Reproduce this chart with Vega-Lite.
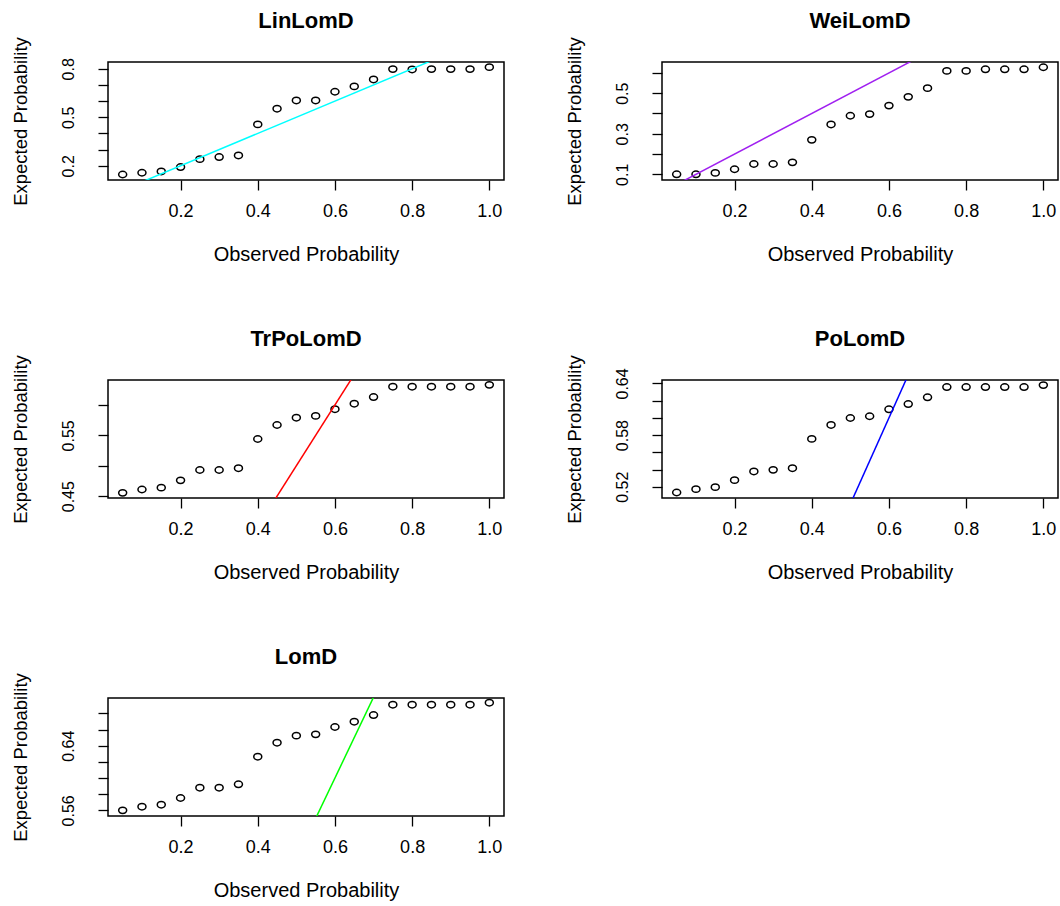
{
  "$schema": "https://vega.github.io/schema/vega-lite/v6.json",
  "background": "white",
  "padding": {"left": 10, "top": 8, "right": 0, "bottom": 0},
  "datasets": {
    "linlomd": [
      {"obs": 0.05, "exp": 0.146}, {"obs": 0.10, "exp": 0.157}, {"obs": 0.15, "exp": 0.165}, {"obs": 0.20, "exp": 0.192},
      {"obs": 0.25, "exp": 0.241}, {"obs": 0.30, "exp": 0.254}, {"obs": 0.35, "exp": 0.264}, {"obs": 0.40, "exp": 0.456},
      {"obs": 0.45, "exp": 0.553}, {"obs": 0.50, "exp": 0.604}, {"obs": 0.55, "exp": 0.604}, {"obs": 0.60, "exp": 0.658},
      {"obs": 0.65, "exp": 0.691}, {"obs": 0.70, "exp": 0.734}, {"obs": 0.75, "exp": 0.798}, {"obs": 0.80, "exp": 0.796},
      {"obs": 0.85, "exp": 0.798}, {"obs": 0.90, "exp": 0.798}, {"obs": 0.95, "exp": 0.798}, {"obs": 1.00, "exp": 0.810}
    ],
    "weilomd": [
      {"obs": 0.05, "exp": 0.100}, {"obs": 0.10, "exp": 0.100}, {"obs": 0.15, "exp": 0.107}, {"obs": 0.20, "exp": 0.125},
      {"obs": 0.25, "exp": 0.151}, {"obs": 0.30, "exp": 0.151}, {"obs": 0.35, "exp": 0.159}, {"obs": 0.40, "exp": 0.270},
      {"obs": 0.45, "exp": 0.346}, {"obs": 0.50, "exp": 0.389}, {"obs": 0.55, "exp": 0.397}, {"obs": 0.60, "exp": 0.439},
      {"obs": 0.65, "exp": 0.482}, {"obs": 0.70, "exp": 0.525}, {"obs": 0.75, "exp": 0.610}, {"obs": 0.80, "exp": 0.610},
      {"obs": 0.85, "exp": 0.618}, {"obs": 0.90, "exp": 0.618}, {"obs": 0.95, "exp": 0.618}, {"obs": 1.00, "exp": 0.628}
    ],
    "trpolomd": [
      {"obs": 0.05, "exp": 0.4555}, {"obs": 0.10, "exp": 0.461}, {"obs": 0.15, "exp": 0.464}, {"obs": 0.20, "exp": 0.476},
      {"obs": 0.25, "exp": 0.493}, {"obs": 0.30, "exp": 0.493}, {"obs": 0.35, "exp": 0.496}, {"obs": 0.40, "exp": 0.544},
      {"obs": 0.45, "exp": 0.567}, {"obs": 0.50, "exp": 0.579}, {"obs": 0.55, "exp": 0.582}, {"obs": 0.60, "exp": 0.593},
      {"obs": 0.65, "exp": 0.602}, {"obs": 0.70, "exp": 0.613}, {"obs": 0.75, "exp": 0.630}, {"obs": 0.80, "exp": 0.630},
      {"obs": 0.85, "exp": 0.630}, {"obs": 0.90, "exp": 0.630}, {"obs": 0.95, "exp": 0.630}, {"obs": 1.00, "exp": 0.633}
    ],
    "polomd": [
      {"obs": 0.05, "exp": 0.5134}, {"obs": 0.10, "exp": 0.5173}, {"obs": 0.15, "exp": 0.5196}, {"obs": 0.20, "exp": 0.5277},
      {"obs": 0.25, "exp": 0.5378}, {"obs": 0.30, "exp": 0.5397}, {"obs": 0.35, "exp": 0.5416}, {"obs": 0.40, "exp": 0.5756},
      {"obs": 0.45, "exp": 0.5918}, {"obs": 0.50, "exp": 0.5999}, {"obs": 0.55, "exp": 0.6019}, {"obs": 0.60, "exp": 0.6100},
      {"obs": 0.65, "exp": 0.6161}, {"obs": 0.70, "exp": 0.6239}, {"obs": 0.75, "exp": 0.6358}, {"obs": 0.80, "exp": 0.6358},
      {"obs": 0.85, "exp": 0.6358}, {"obs": 0.90, "exp": 0.6358}, {"obs": 0.95, "exp": 0.6358}, {"obs": 1.00, "exp": 0.6381}
    ],
    "lomd": [
      {"obs": 0.05, "exp": 0.5600}, {"obs": 0.10, "exp": 0.5645}, {"obs": 0.15, "exp": 0.5670}, {"obs": 0.20, "exp": 0.5753},
      {"obs": 0.25, "exp": 0.5880}, {"obs": 0.30, "exp": 0.5880}, {"obs": 0.35, "exp": 0.5922}, {"obs": 0.40, "exp": 0.6264},
      {"obs": 0.45, "exp": 0.6437}, {"obs": 0.50, "exp": 0.6524}, {"obs": 0.55, "exp": 0.6540}, {"obs": 0.60, "exp": 0.6631},
      {"obs": 0.65, "exp": 0.6697}, {"obs": 0.70, "exp": 0.6779}, {"obs": 0.75, "exp": 0.6907}, {"obs": 0.80, "exp": 0.6907},
      {"obs": 0.85, "exp": 0.6907}, {"obs": 0.90, "exp": 0.6907}, {"obs": 0.95, "exp": 0.6907}, {"obs": 1.00, "exp": 0.6932}
    ],
    "diag": [{"obs": 0, "exp": 0}, {"obs": 1, "exp": 1}]
  },
  "bounds": "flush",
  "spacing": 318,
  "vconcat": [
    {
      "bounds": "flush",
      "spacing": 158,
      "hconcat": [
        {
          "width": 396, "height": 118,
          "title": "LinLomD",
          "resolve": {"axis": {"y": "independent"}},
          "layer": [
            {
              "data": {"name": "linlomd"},
              "mark": {"type": "point", "shape": "M-1,0A1,0.8,0,1,1,1,0A1,0.8,0,1,1,-1,0Z", "filled": false, "stroke": "black", "strokeWidth": 1.5, "size": 64, "opacity": 1},
              "encoding": {
                "x": {"field": "obs", "type": "quantitative", "title": "Observed Probability", "scale": {"domain": [0.012, 1.038], "nice": false, "zero": false}, "axis": {"values": [0.2, 0.4, 0.6, 0.8, 1.0], "format": ".1f"}},
                "y": {"field": "exp", "type": "quantitative", "title": null, "scale": {"domain": [0.112, 0.842], "nice": false, "zero": false}, "axis": {"orient": "left", "values": [0.2, 0.3, 0.4, 0.5, 0.6, 0.7, 0.8], "labels": false}}
              }
            },
            {
              "data": {"name": "diag"},
              "mark": {"type": "line", "clip": true, "color": "#00FFFF", "strokeWidth": 1.5},
              "encoding": {
                "x": {"field": "obs", "type": "quantitative", "scale": {"domain": [0.012, 1.038], "nice": false, "zero": false}},
                "y": {"field": "exp", "type": "quantitative", "title": "Expected Probability", "scale": {"domain": [0.112, 0.842], "nice": false, "zero": false}, "axis": {"orient": "left", "values": [0.2, 0.5, 0.8], "format": ".1f", "tickOpacity": 0}}
              }
            }
          ]
        },
        {
          "width": 396, "height": 118,
          "title": "WeiLomD",
          "resolve": {"axis": {"y": "independent"}},
          "layer": [
            {
              "data": {"name": "weilomd"},
              "mark": {"type": "point", "shape": "M-1,0A1,0.8,0,1,1,1,0A1,0.8,0,1,1,-1,0Z", "filled": false, "stroke": "black", "strokeWidth": 1.5, "size": 64, "opacity": 1},
              "encoding": {
                "x": {"field": "obs", "type": "quantitative", "title": "Observed Probability", "scale": {"domain": [0.012, 1.038], "nice": false, "zero": false}, "axis": {"values": [0.2, 0.4, 0.6, 0.8, 1.0], "format": ".1f"}},
                "y": {"field": "exp", "type": "quantitative", "title": null, "scale": {"domain": [0.072, 0.654], "nice": false, "zero": false}, "axis": {"orient": "left", "values": [0.1, 0.2, 0.3, 0.4, 0.5, 0.6], "labels": false}}
              }
            },
            {
              "data": {"name": "diag"},
              "mark": {"type": "line", "clip": true, "color": "#A020F0", "strokeWidth": 1.5},
              "encoding": {
                "x": {"field": "obs", "type": "quantitative", "scale": {"domain": [0.012, 1.038], "nice": false, "zero": false}},
                "y": {"field": "exp", "type": "quantitative", "title": "Expected Probability", "scale": {"domain": [0.072, 0.654], "nice": false, "zero": false}, "axis": {"orient": "left", "values": [0.1, 0.3, 0.5], "format": ".1f", "tickOpacity": 0}}
              }
            }
          ]
        }
      ]
    },
    {
      "bounds": "flush",
      "spacing": 158,
      "hconcat": [
        {
          "width": 396, "height": 118,
          "title": "TrPoLomD",
          "resolve": {"axis": {"y": "independent"}},
          "layer": [
            {
              "data": {"name": "trpolomd"},
              "mark": {"type": "point", "shape": "M-1,0A1,0.8,0,1,1,1,0A1,0.8,0,1,1,-1,0Z", "filled": false, "stroke": "black", "strokeWidth": 1.5, "size": 64, "opacity": 1},
              "encoding": {
                "x": {"field": "obs", "type": "quantitative", "title": "Observed Probability", "scale": {"domain": [0.012, 1.038], "nice": false, "zero": false}, "axis": {"values": [0.2, 0.4, 0.6, 0.8, 1.0], "format": ".1f"}},
                "y": {"field": "exp", "type": "quantitative", "title": null, "scale": {"domain": [0.447, 0.641], "nice": false, "zero": false}, "axis": {"orient": "left", "values": [0.45, 0.5, 0.55, 0.6], "labels": false}}
              }
            },
            {
              "data": {"name": "diag"},
              "mark": {"type": "line", "clip": true, "color": "#FF0000", "strokeWidth": 1.5},
              "encoding": {
                "x": {"field": "obs", "type": "quantitative", "scale": {"domain": [0.012, 1.038], "nice": false, "zero": false}},
                "y": {"field": "exp", "type": "quantitative", "title": "Expected Probability", "scale": {"domain": [0.447, 0.641], "nice": false, "zero": false}, "axis": {"orient": "left", "values": [0.45, 0.55], "format": ".2f", "tickOpacity": 0}}
              }
            }
          ]
        },
        {
          "width": 396, "height": 118,
          "title": "PoLomD",
          "resolve": {"axis": {"y": "independent"}},
          "layer": [
            {
              "data": {"name": "polomd"},
              "mark": {"type": "point", "shape": "M-1,0A1,0.8,0,1,1,1,0A1,0.8,0,1,1,-1,0Z", "filled": false, "stroke": "black", "strokeWidth": 1.5, "size": 64, "opacity": 1},
              "encoding": {
                "x": {"field": "obs", "type": "quantitative", "title": "Observed Probability", "scale": {"domain": [0.012, 1.038], "nice": false, "zero": false}, "axis": {"values": [0.2, 0.4, 0.6, 0.8, 1.0], "format": ".1f"}},
                "y": {"field": "exp", "type": "quantitative", "title": null, "scale": {"domain": [0.507, 0.644], "nice": false, "zero": false}, "axis": {"orient": "left", "values": [0.52, 0.54, 0.56, 0.58, 0.6, 0.62, 0.64], "labels": false}}
              }
            },
            {
              "data": {"name": "diag"},
              "mark": {"type": "line", "clip": true, "color": "#0000FF", "strokeWidth": 1.5},
              "encoding": {
                "x": {"field": "obs", "type": "quantitative", "scale": {"domain": [0.012, 1.038], "nice": false, "zero": false}},
                "y": {"field": "exp", "type": "quantitative", "title": "Expected Probability", "scale": {"domain": [0.507, 0.644], "nice": false, "zero": false}, "axis": {"orient": "left", "values": [0.52, 0.58, 0.64], "format": ".2f", "tickOpacity": 0}}
              }
            }
          ]
        }
      ]
    },
    {
      "bounds": "flush",
      "spacing": 158,
      "hconcat": [
        {
          "width": 396, "height": 118,
          "title": "LomD",
          "resolve": {"axis": {"y": "independent"}},
          "layer": [
            {
              "data": {"name": "lomd"},
              "mark": {"type": "point", "shape": "M-1,0A1,0.8,0,1,1,1,0A1,0.8,0,1,1,-1,0Z", "filled": false, "stroke": "black", "strokeWidth": 1.5, "size": 64, "opacity": 1},
              "encoding": {
                "x": {"field": "obs", "type": "quantitative", "title": "Observed Probability", "scale": {"domain": [0.012, 1.038], "nice": false, "zero": false}, "axis": {"values": [0.2, 0.4, 0.6, 0.8, 1.0], "format": ".1f"}},
                "y": {"field": "exp", "type": "quantitative", "title": null, "scale": {"domain": [0.553, 0.699], "nice": false, "zero": false}, "axis": {"orient": "left", "values": [0.56, 0.58, 0.6, 0.62, 0.64, 0.66, 0.68], "labels": false}}
              }
            },
            {
              "data": {"name": "diag"},
              "mark": {"type": "line", "clip": true, "color": "#00FF00", "strokeWidth": 1.5},
              "encoding": {
                "x": {"field": "obs", "type": "quantitative", "scale": {"domain": [0.012, 1.038], "nice": false, "zero": false}},
                "y": {"field": "exp", "type": "quantitative", "title": "Expected Probability", "scale": {"domain": [0.553, 0.699], "nice": false, "zero": false}, "axis": {"orient": "left", "values": [0.56, 0.64], "format": ".2f", "tickOpacity": 0}}
              }
            }
          ]
        }
      ]
    }
  ],
  "config": {
    "view": {"stroke": "black", "strokeWidth": 1.5},
    "axis": {
      "domain": false, "grid": false,
      "tickColor": "black", "tickSize": 10, "tickWidth": 1.3,
      "labelColor": "black", "labelFont": "Liberation Sans", "labelOverlap": false, "labelFlush": false,
      "titleColor": "black", "titleFont": "Liberation Sans", "titleFontWeight": "normal"
    },
    "axisX": {"labelFontSize": 18, "labelPadding": 12, "titleFontSize": 20, "titlePadding": 24},
    "axisY": {"labelFontSize": 16, "labelPadding": 22, "labelAngle": 270, "labelAlign": "center", "labelBaseline": "bottom", "titleFontSize": 18.5, "titlePadding": 30},
    "title": {"font": "Liberation Sans", "fontSize": 22, "fontWeight": "bold", "color": "black", "anchor": "middle", "frame": "group", "offset": 4}
  }
}
